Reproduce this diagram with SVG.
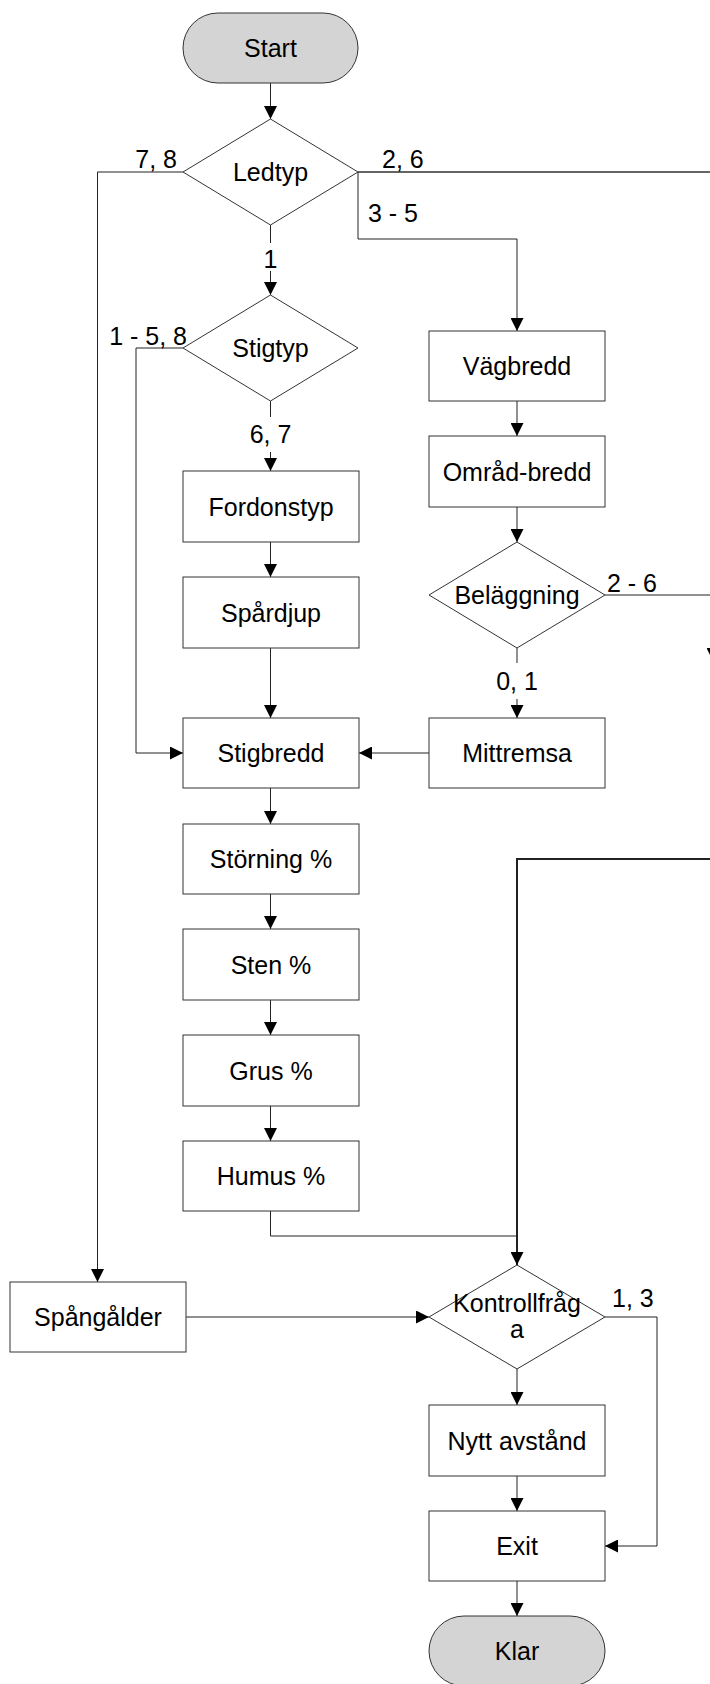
<svg xmlns="http://www.w3.org/2000/svg" width="710" height="1684" viewBox="0 0 710 1684">
<style>
.box{fill:#fff;stroke:#333;stroke-width:1}
.term{fill:#d4d4d4;stroke:#333;stroke-width:1}
.t{font-family:"Liberation Sans",Arial,sans-serif;font-size:25px;fill:#000;text-anchor:middle}
.lbl{font-family:"Liberation Sans",Arial,sans-serif;font-size:25px;fill:#000}
.c{fill:none;stroke:#222;stroke-width:1}
.cb{fill:none;stroke:#222;stroke-width:2}
.cm{fill:none;stroke:#333;stroke-width:1.5}
</style>
<defs>
<marker id="ah" markerUnits="userSpaceOnUse" markerWidth="13" markerHeight="13" viewBox="0 0 13 13" refX="13" refY="6.5" orient="auto">
<path d="M0,0 L13,6.5 L0,13 z" fill="#000"/>
</marker>
</defs>
<g id="connectors">
<path class="c" d="M270.5,83 V119" marker-end="url(#ah)"/>
<path class="c" d="M183,172 H97.5 V1282" marker-end="url(#ah)"/>
<path class="cm" d="M358,172 H713 V661" marker-end="url(#ah)"/>
<path class="c" d="M358,172 V239 H517 V331" marker-end="url(#ah)"/>
<path class="c" d="M270.5,225 V243"/>
<path class="c" d="M270.5,271 V295" marker-end="url(#ah)"/>
<path class="c" d="M183,348 H136 V753 H183" marker-end="url(#ah)"/>
<path class="c" d="M270.5,401 V417"/>
<path class="c" d="M270.5,452 V471" marker-end="url(#ah)"/>
<path class="c" d="M270.5,542 V577" marker-end="url(#ah)"/>
<path class="c" d="M270.5,648 V718" marker-end="url(#ah)"/>
<path class="c" d="M517,401 V436" marker-end="url(#ah)"/>
<path class="c" d="M517,507 V542" marker-end="url(#ah)"/>
<path class="c" d="M605,595 H713"/>
<path class="c" d="M517,648 V663"/>
<path class="c" d="M517,699 V718" marker-end="url(#ah)"/>
<path class="c" d="M429,753 H359" marker-end="url(#ah)"/>
<path class="c" d="M270.5,788 V824" marker-end="url(#ah)"/>
<path class="c" d="M270.5,894 V929" marker-end="url(#ah)"/>
<path class="c" d="M270.5,1000 V1035" marker-end="url(#ah)"/>
<path class="c" d="M270.5,1106 V1141" marker-end="url(#ah)"/>
<path class="c" d="M270.5,1211 V1236 H517"/>
<path class="cb" d="M712,859 H517 V1265" marker-end="url(#ah)"/>
<path class="c" d="M186,1317 H429" marker-end="url(#ah)"/>
<path class="c" d="M605,1317 H657 V1546 H605" marker-end="url(#ah)"/>
<path class="c" d="M517,1369 V1405" marker-end="url(#ah)"/>
<path class="c" d="M517,1476 V1511" marker-end="url(#ah)"/>
<path class="c" d="M517,1581 V1616" marker-end="url(#ah)"/>
<text class="lbl" x="177" y="168" text-anchor="end">7, 8</text>
<text class="lbl" x="382" y="168">2, 6</text>
<text class="lbl" x="368" y="222">3 - 5</text>
<text class="lbl" x="270.5" y="268" text-anchor="middle">1</text>
<text class="lbl" x="187" y="345" text-anchor="end">1 - 5, 8</text>
<text class="lbl" x="270.5" y="443" text-anchor="middle">6, 7</text>
<text class="lbl" x="607" y="592">2 - 6</text>
<text class="lbl" x="517" y="690" text-anchor="middle">0, 1</text>
<text class="lbl" x="612" y="1307">1, 3</text>
</g>
<g id="start"><rect class="term" x="183" y="13" width="175" height="70" rx="35"/><text class="t" x="270.5" y="57">Start</text></g>
<g id="ledtyp"><polygon class="box" points="270.5,119 358,172 270.5,225 183,172"/><text class="t" x="270.5" y="181">Ledtyp</text></g>
<g id="stigtyp"><polygon class="box" points="270.5,295 358,348 270.5,401 183,348"/><text class="t" x="270.5" y="357">Stigtyp</text></g>
<g id="fordonstyp"><rect class="box" x="183" y="471" width="176" height="71"/><text class="t" x="271" y="515.5">Fordonstyp</text></g>
<g id="spardjup"><rect class="box" x="183" y="577" width="176" height="71"/><text class="t" x="271" y="621.5">Spårdjup</text></g>
<g id="stigbredd"><rect class="box" x="183" y="718" width="176" height="70"/><text class="t" x="271" y="762">Stigbredd</text></g>
<g id="storning"><rect class="box" x="183" y="824" width="176" height="70"/><text class="t" x="271" y="868">Störning %</text></g>
<g id="sten"><rect class="box" x="183" y="929" width="176" height="71"/><text class="t" x="271" y="973.5">Sten %</text></g>
<g id="grus"><rect class="box" x="183" y="1035" width="176" height="71"/><text class="t" x="271" y="1079.5">Grus %</text></g>
<g id="humus"><rect class="box" x="183" y="1141" width="176" height="70"/><text class="t" x="271" y="1185">Humus %</text></g>
<g id="vagbredd"><rect class="box" x="429" y="331" width="176" height="70"/><text class="t" x="517" y="375">Vägbredd</text></g>
<g id="omradbredd"><rect class="box" x="429" y="436" width="176" height="71"/><text class="t" x="517" y="480.5">Områd-bredd</text></g>
<g id="belaggning"><polygon class="box" points="517,542 605,595 517,648 429,595"/><text class="t" x="517" y="604">Beläggning</text></g>
<g id="mittremsa"><rect class="box" x="429" y="718" width="176" height="70"/><text class="t" x="517" y="762">Mittremsa</text></g>
<g id="spangalder"><rect class="box" x="10" y="1282" width="176" height="70"/><text class="t" x="98" y="1326">Spångålder</text></g>
<g id="kontrollfraga"><polygon class="box" points="517,1265 605,1317 517,1369 429,1317"/><text class="t" x="517" y="1312">Kontrollfråg</text><text class="t" x="517" y="1338">a</text></g>
<g id="nyttavstand"><rect class="box" x="429" y="1405" width="176" height="71"/><text class="t" x="517" y="1449.5">Nytt avstånd</text></g>
<g id="exit"><rect class="box" x="429" y="1511" width="176" height="70"/><text class="t" x="517" y="1555">Exit</text></g>
<g id="klar"><rect class="term" x="429" y="1616" width="176" height="70" rx="35"/><text class="t" x="517" y="1660">Klar</text></g>
</svg>
